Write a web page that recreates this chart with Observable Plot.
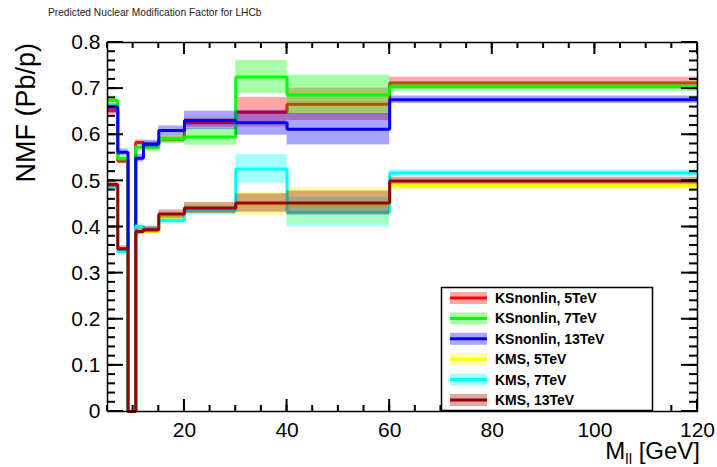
<!DOCTYPE html>
<html><head><meta charset="utf-8">
<script src="https://cdn.jsdelivr.net/npm/d3@7"></script>
<script src="https://cdn.jsdelivr.net/npm/@observablehq/plot@0.6"></script>
<style>body{margin:0;background:#fff}</style>
</head><body><div id="chart"></div>
<script>
// ---- data ----
const binEdges = [5, 7, 9, 10.5, 12, 15, 20, 30, 40, 60, 120];
const seriesNames = ["KSnonlin, 5TeV", "KSnonlin, 7TeV", "KSnonlin, 13TeV", "KMS, 5TeV", "KMS, 7TeV", "KMS, 13TeV"];
const seriesColors = ["#ff0000", "#00ff00", "#0000ff", "#ffff00", "#00ffff", "#990000"];

const ksnonlin5    = [0.652, 0.543, 0, 0.583, 0.578, 0.590, 0.626, 0.649, 0.666, 0.712];
const ksnonlin5Err = [0.008, 0.006, 0, 0.006, 0.006, 0.008, 0.010, 0.032, 0.035, 0.013];
const ksnonlin7    = [0.674, 0.548, 0, 0.573, 0.572, 0.591, 0.595, 0.725, 0.686, 0.704];
const ksnonlin7Err = [0.010, 0.007, 0, 0.007, 0.008, 0.009, 0.018, 0.036, 0.043, 0.010];
const ksnonlin13   = [0.660, 0.562, 0, 0.549, 0.580, 0.609, 0.631, 0.626, 0.612, 0.676];
const ksnonlin13Err= [0.007, 0.007, 0, 0.008, 0.008, 0.010, 0.020, 0.027, 0.034, 0.008];
const kms5         = [0.488, 0.350, 0, 0.393, 0.391, 0.420, 0.440, 0.450, 0.445, 0.490];
const kms5Err      = [0.006, 0.005, 0, 0.006, 0.007, 0.008, 0.012, 0.025, 0.040, 0.008];
const kms7         = [0.485, 0.347, 0, 0.401, 0.396, 0.414, 0.436, 0.526, 0.432, 0.517];
const kms7Err      = [0.006, 0.005, 0, 0.006, 0.007, 0.008, 0.010, 0.031, 0.032, 0.007];
const kms13        = [0.492, 0.353, 0, 0.390, 0.394, 0.428, 0.441, 0.452, 0.452, 0.500];
const kms13Err     = [0.007, 0.006, 0, 0.007, 0.007, 0.009, 0.012, 0.020, 0.026, 0.008];

const seriesValues = [ksnonlin5, ksnonlin7, ksnonlin13, kms5, kms7, kms13];
const seriesErrors = [ksnonlin5Err, ksnonlin7Err, ksnonlin13Err, kms5Err, kms7Err, kms13Err];

const xTicks = [20, 40, 60, 80, 100, 120];
const xTickLabels = ["20", "40", "60", "80", "100", "120"];
const yTicks = [0, 0.1, 0.2, 0.3, 0.4, 0.5, 0.6, 0.7, 0.8];
const yTickLabels = ["0", "0.1", "0.2", "0.3", "0.4", "0.5", "0.6", "0.7", "0.8"];
const xMinorTicks = d3.range(5, 120.001, 5);
const yMinorTicks = d3.range(0, 0.8001, 0.02);

const titleText = "Predicted Nuclear Modification Factor for LHCb";
const xTitle = ["M", "ll", " [GeV]"];
const yTitle = "NMF (Pb/p)";

// ---- build tables ----
const bandMarks = [];
seriesValues.forEach((vals, i) => {
  const bins = vals.map((v, j) => ({x1: binEdges[j], x2: binEdges[j + 1], lo: v - seriesErrors[i][j], hi: v + seriesErrors[i][j]}))
    .filter(b => b.hi > b.lo);
  const pts = vals.map((v, j) => ({x: binEdges[j], y: v}));
  pts.push({x: binEdges[binEdges.length - 1], y: vals[vals.length - 1]});
  bandMarks.push(Plot.rect(bins, {x1: "x1", x2: "x2", y1: "lo", y2: "hi", fill: seriesColors[i], fillOpacity: 0.35}));
  bandMarks.push(Plot.line(pts, {x: "x", y: "y", stroke: seriesColors[i], strokeWidth: 3, curve: "step-after", strokeLinejoin: "miter", strokeLinecap: "butt"}));
});

const plot = Plot.plot({
  width: 717,
  height: 467,
  marginLeft: 107,
  marginRight: 20,
  marginTop: 42,
  marginBottom: 56,
  style: {fontFamily: "'Liberation Sans', Arial, sans-serif", fontSize: "21px", background: "white", color: "black"},
  x: {domain: [5, 120]},
  y: {domain: [0, 0.8]},
  marks: [
    ...bandMarks,
    Plot.frame({stroke: "black", strokeWidth: 1.5}),
    Plot.axisX({anchor: "bottom", ticks: xTicks, tickSize: 0, tickPadding: 11, tickFormat: (d, i) => xTickLabels[i], label: null, fontSize: 21}),
    Plot.axisY({anchor: "left", ticks: yTicks, tickSize: 0, tickPadding: 7, tickFormat: (d, i) => yTickLabels[i], label: null, fontSize: 21})
  ]
});
document.getElementById("chart").appendChild(plot);

// ---- inward ticks as thin filled rects, positioned through the plot's scales ----
const svg = d3.select(plot);
const sx = plot.scale("x"), sy = plot.scale("y");
const X = d3.scaleLinear(sx.domain, sx.range);
const Y = d3.scaleLinear(sy.domain, sy.range);
const xl = X(5), xr = X(120), yb = Y(0), yt = Y(0.8);
const tg = svg.append("g").attr("fill", "#000");
const addX = (ticks, len) => ticks.forEach(v => {
  const px = X(v);
  tg.append("rect").attr("x", px - 1).attr("y", yb - len).attr("width", 2).attr("height", len);
  tg.append("rect").attr("x", px - 1).attr("y", yt).attr("width", 2).attr("height", len);
});
const addY = (ticks, len) => ticks.forEach(v => {
  const py = Y(v);
  tg.append("rect").attr("x", xl).attr("y", py - 1).attr("width", len).attr("height", 2);
  tg.append("rect").attr("x", xr - len).attr("y", py - 1).attr("width", len).attr("height", 2);
});
addX(xTicks, 12); addX(xMinorTicks, 6);
addY(yTicks, 16); addY(yMinorTicks, 8);

// ---- title, axis titles, legend ----
svg.append("text").attr("x", 48).attr("y", 16).attr("text-anchor", "start").attr("font-size", 10.2).attr("fill", "#222").text(titleText);

const xt = svg.append("text").attr("x", 700).attr("y", 459).attr("text-anchor", "end").attr("font-size", 24);
xt.append("tspan").text(xTitle[0]);
xt.append("tspan").attr("font-size", 15).attr("dy", 5).text(xTitle[1]);
xt.append("tspan").attr("dy", -5).text(xTitle[2]);

svg.append("text").attr("transform", "translate(35,43) rotate(-90)").attr("text-anchor", "end").attr("font-size", 27).text(yTitle);

const lg = svg.append("g");
lg.append("rect").attr("x", 441.5).attr("y", 287.5).attr("width", 211).attr("height", 123).attr("fill", "white").attr("stroke", "black").attr("stroke-width", 1.5);
seriesNames.forEach((name, i) => {
  const cy = 298 + i * 20.4;
  lg.append("rect").attr("x", 450).attr("y", cy - 6).attr("width", 37).attr("height", 12).attr("fill", seriesColors[i]).attr("fill-opacity", 0.35);
  lg.append("line").attr("x1", 450).attr("x2", 487).attr("y1", cy).attr("y2", cy).attr("stroke", seriesColors[i]).attr("stroke-width", 3);
  lg.append("text").attr("x", 495).attr("y", cy + 5).attr("text-anchor", "start").attr("font-size", 14).attr("font-weight", "bold").text(name);
});
</script>
</body></html>
